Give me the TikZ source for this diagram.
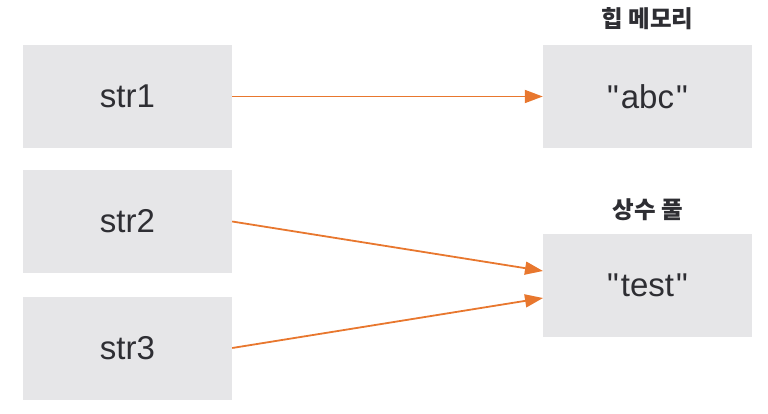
\documentclass[tikz,border=0pt]{standalone}
\usepackage{fontspec}
\setmainfont{Liberation Sans}[Ligatures=TeXOff]
\newfontfamily\kor{Noto Sans CJK KR}
\usetikzlibrary{arrows.meta}
\definecolor{boxgray}{HTML}{E6E6E8}
\definecolor{arrorange}{HTML}{E8772E}
\definecolor{txt}{HTML}{2E2E33}
\tikzset{
  membox/.style={fill=boxgray, draw=none, minimum width=209pt, minimum height=103pt, inner sep=0pt, font=\fontsize{33}{33}\selectfont, text=txt},
  lbl/.style={font=\kor\bfseries\fontsize{23.5}{23.5}\selectfont, text=txt, inner sep=0pt},
  ptr/.style={draw=arrorange, line width=1.8pt, -{Triangle[length=18pt,width=13pt]}}
}
\begin{document}
\begin{tikzpicture}[x=1pt,y=-1pt]
\useasboundingbox (0,0) rectangle (768,414);
\node[membox] (s1) at (127.5,96.5) {str1};
\node[membox] (s2) at (127.5,221.5) {str2};
\node[membox] (s3) at (127.5,348) {str3};
\node[membox] (abc) at (647.5,96.5) {"\kern2pt abc\kern2pt"};
\node[membox] (test) at (647.5,285.5) {"\kern2pt test\kern2pt"};
\node[lbl] (heap) at (647.5,19) {힙 메모리};
\node[lbl] (pool) at (647.5,210) {상수 풀};
\coordinate (t2) at (543,271);
\coordinate (t3) at (543,298);
\draw[ptr] (s1.east) -- (abc.west);
\draw[ptr] (s2.east) -- (t2);
\draw[ptr] (s3.east) -- (t3);
\end{tikzpicture}
\end{document}
